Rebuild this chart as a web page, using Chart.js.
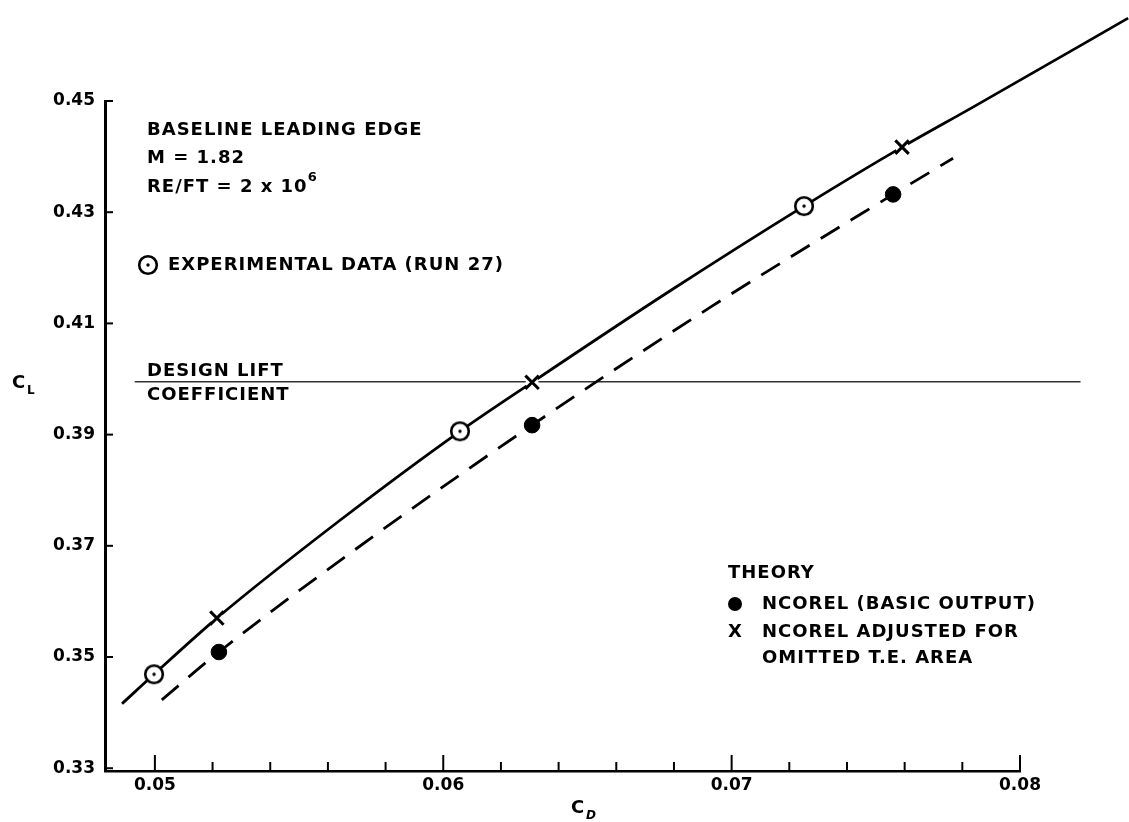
<!DOCTYPE html>
<html>
<head>
<meta charset="utf-8">
<script src="https://cdn.jsdelivr.net/npm/chart.js@4/dist/chart.umd.min.js"></script>
<style>
  html, body { margin: 0; padding: 0; background: #fff; }
  canvas { display: block; }
</style>
</head>
<body>
<canvas id="chart" width="1129" height="822"></canvas>
<script>
(() => {
  // solid fairing through experiment + adjusted theory
  const curveCd = [0.04886, 0.04997, 0.05215, 0.05642, 0.06058, 0.06308, 0.06779, 0.07251, 0.07591, 0.07837, 0.08375];
  const curveCl = [0.3416, 0.3469, 0.3570, 0.3746, 0.3906, 0.3994, 0.4156, 0.4311, 0.4417, 0.4489, 0.4649];
  // dashed fairing through basic NCOREL output
  const dashCd = [0.05024, 0.05222, 0.05763, 0.06308, 0.06932, 0.0756, 0.07768];
  const dashCl = [0.3423, 0.3509, 0.3719, 0.3917, 0.4131, 0.4332, 0.4397];

  const expCd = [0.04997, 0.06058, 0.07251];
  const expCl = [0.3469, 0.3906, 0.4311];
  const basicCd = [0.05222, 0.06308, 0.0756];
  const basicCl = [0.3509, 0.3917, 0.4332];
  const adjCd = [0.05215, 0.06308, 0.07591];
  const adjCl = [0.3570, 0.3994, 0.4417];

  const designCd = [0.0493, 0.0821];
  const designCl = [0.3995, 0.3995];

  const xTicks = [0.05, 0.052, 0.054, 0.056, 0.058, 0.06, 0.062, 0.064, 0.066, 0.068, 0.07, 0.072, 0.074, 0.076, 0.078, 0.08];
  const xMajor = [0.05, 0.06, 0.07, 0.08];
  const xLabels = ["0.05", "0.06", "0.07", "0.08"];
  const yTicks = [0.33, 0.35, 0.37, 0.39, 0.41, 0.43, 0.45];
  const yLabels = ["0.33", "0.35", "0.37", "0.39", "0.41", "0.43", "0.45"];

  const FONT = "'DejaVu Sans', Arial, sans-serif";
  const pts = (xs, ys) => xs.map((x, i) => ({ x, y: ys[i] }));

  // circle with a dot in the middle, used for the experiment markers
  const dotCircle = document.createElement("canvas");
  dotCircle.width = 26;
  dotCircle.height = 26;
  (() => {
    const c = dotCircle.getContext("2d");
    c.beginPath();
    c.arc(13, 13, 8.8, 0, Math.PI * 2);
    c.fillStyle = "#fff";
    c.fill();
    c.lineWidth = 2.6;
    c.strokeStyle = "#000";
    c.stroke();
    c.beginPath();
    c.arc(13, 13, 1.7, 0, Math.PI * 2);
    c.fillStyle = "#000";
    c.fill();
  })();

  const inwardTicks = {
    id: "inwardTicks",
    afterDraw(chart) {
      const { ctx, scales: { x, y }, chartArea } = chart;
      ctx.save();
      ctx.strokeStyle = "#000";
      ctx.lineWidth = 2;
      xTicks.forEach((v) => {
        const px = x.getPixelForValue(v);
        const major = xMajor.some((m) => Math.abs(m - v) < 1e-9);
        ctx.beginPath();
        ctx.moveTo(px, chartArea.bottom);
        ctx.lineTo(px, chartArea.bottom - (major ? 16 : 9));
        ctx.stroke();
      });
      yTicks.forEach((v) => {
        const py = y.getPixelForValue(v);
        ctx.beginPath();
        ctx.moveTo(chartArea.left, py);
        ctx.lineTo(chartArea.left + 8, py);
        ctx.stroke();
      });
      ctx.restore();
    },
  };

  const notes = {
    id: "notes",
    afterDraw(chart) {
      const { ctx } = chart;
      ctx.save();
      ctx.fillStyle = "#000";
      ctx.textBaseline = "middle";
      ctx.font = `bold 18px ${FONT}`;
      ctx.letterSpacing = "1px";

      ctx.fillText("BASELINE LEADING EDGE", 147, 130);
      ctx.fillText("M = 1.82", 147, 158);
      ctx.fillText("RE/FT = 2 x 10", 147, 187);
      const w = ctx.measureText("RE/FT = 2 x 10").width;
      ctx.font = `bold 13px ${FONT}`;
      ctx.fillText("6", 147 + w, 178);

      ctx.font = `bold 18px ${FONT}`;
      ctx.drawImage(dotCircle, 148 - 13, 265 - 13);
      ctx.fillText("EXPERIMENTAL DATA (RUN 27)", 168, 265);

      ctx.fillText("DESIGN LIFT", 147, 371);
      ctx.fillText("COEFFICIENT", 147, 395);

      ctx.fillText("THEORY", 728, 573);
      ctx.beginPath();
      ctx.arc(735, 604, 7, 0, Math.PI * 2);
      ctx.fill();
      ctx.fillText("NCOREL (BASIC OUTPUT)", 762, 604);
      ctx.fillText("X", 728, 632);
      ctx.fillText("NCOREL ADJUSTED FOR", 762, 632);
      ctx.fillText("OMITTED T.E. AREA", 762, 658);

      // axis titles
      ctx.letterSpacing = "0px";
      ctx.fillText("C", 12, 383);
      ctx.fillText("C", 571, 808);
      ctx.font = `bold 12px ${FONT}`;
      ctx.fillText("L", 27, 391);
      ctx.font = `italic bold 12px ${FONT}`;
      ctx.fillText("D", 586, 816);
      ctx.restore();
    },
  };

  const ctx = document.getElementById("chart").getContext("2d");

  new Chart(ctx, {
    type: "scatter",
    data: {
      datasets: [
        {
          label: "experiment",
          data: pts(expCd, expCl),
          pointStyle: dotCircle,
          pointRadius: 10,
          showLine: false,
        },
        {
          label: "ncorel basic",
          data: pts(basicCd, basicCl),
          pointStyle: "circle",
          pointRadius: 7.8,
          backgroundColor: "#000",
          borderColor: "#000",
          showLine: false,
        },
        {
          label: "ncorel adjusted",
          data: pts(adjCd, adjCl),
          pointStyle: "crossRot",
          pointRadius: 9.5,
          borderWidth: 3,
          borderColor: "#000",
          showLine: false,
        },
        {
          // white knock-out behind each X, the faired line breaks there
          label: "ncorel adjusted gap",
          data: pts(adjCd, adjCl),
          pointStyle: "circle",
          pointRadius: 6.5,
          borderWidth: 0,
          backgroundColor: "#fff",
          showLine: false,
        },
        {
          label: "fairing",
          data: pts(curveCd, curveCl),
          showLine: true,
          borderColor: "#000",
          borderWidth: 2.8,
          pointRadius: 0,
          cubicInterpolationMode: "monotone",
          clip: false,
        },
        {
          label: "fairing basic",
          data: pts(dashCd, dashCl),
          showLine: true,
          borderColor: "#000",
          borderWidth: 2.8,
          borderDash: [22, 13],
          pointRadius: 0,
          cubicInterpolationMode: "monotone",
          clip: false,
        },
        {
          label: "design lift",
          data: pts(designCd, designCl),
          showLine: true,
          borderColor: "#333",
          borderWidth: 1.5,
          pointRadius: 0,
          clip: false,
        },
      ],
    },
    options: {
      responsive: false,
      animation: false,
      devicePixelRatio: 1,
      layout: { padding: { left: 0, right: 109, top: 101, bottom: 0 } },
      plugins: { legend: { display: false }, tooltip: { enabled: false } },
      scales: {
        x: {
          type: "linear",
          min: 0.04827,
          max: 0.08,
          afterBuildTicks: (s) => { s.ticks = xTicks.map((value) => ({ value })); },
          afterFit: (s) => { s.height = 51; },
          grid: { drawOnChartArea: false, drawTicks: false },
          border: { display: true, color: "#000", width: 2.5 },
          ticks: {
            padding: 4,
            color: "#000",
            font: { family: FONT, size: 17, weight: "bold" },
            maxRotation: 0,
            autoSkip: false,
            callback: (value) => {
              const i = xMajor.findIndex((m) => Math.abs(m - value) < 1e-9);
              return i >= 0 ? xLabels[i] : "";
            },
          },
        },
        y: {
          type: "linear",
          min: 0.3295,
          max: 0.45,
          afterBuildTicks: (s) => { s.ticks = yTicks.map((value) => ({ value })); },
          afterFit: (s) => { s.width = 105; },
          grid: { drawOnChartArea: false, drawTicks: false },
          border: { display: true, color: "#000", width: 3 },
          ticks: {
            padding: 10,
            color: "#000",
            font: { family: FONT, size: 17, weight: "bold" },
            autoSkip: false,
            callback: (value) => {
              const i = yTicks.findIndex((t) => Math.abs(t - value) < 1e-9);
              return i >= 0 ? yLabels[i] : "";
            },
          },
        },
      },
    },
    plugins: [inwardTicks, notes],
  });
})();
</script>
</body>
</html>
